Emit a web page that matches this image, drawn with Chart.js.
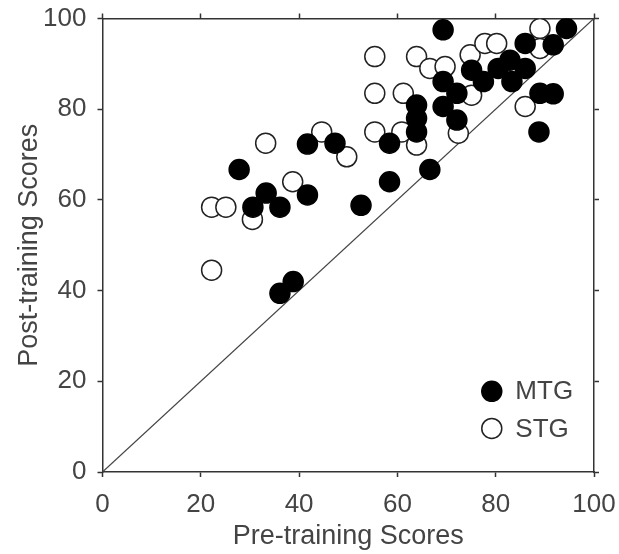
<!DOCTYPE html>
<html>
<head>
<meta charset="utf-8">
<script src="https://cdn.jsdelivr.net/npm/chart.js@4.4.1/dist/chart.umd.min.js"></script>
<style>
  html, body { margin: 0; padding: 0; background: #fff; }
  #wrap { width: 619px; height: 554px; }
</style>
</head>
<body>
<div id="wrap"><canvas id="chart" width="619" height="554"></canvas></div>
<script>
// MTG group (filled markers)
const mtgPre  = [69.3, 94.4, 86.0, 91.7, 75.1, 77.5, 80.5, 82.9, 86.0, 83.3, 69.3, 72.1, 69.3, 72.1, 63.9, 63.9, 63.9,
                 58.4, 58.4, 66.6, 52.6, 89.0, 91.7, 88.8, 47.3, 41.7, 41.7, 27.8, 30.6, 33.3, 36.1, 36.1, 38.8];
const mtgPost = [97.5, 97.8, 94.5, 94.2, 88.6, 86.1, 89.0, 90.8, 89.0, 86.1, 86.1, 83.5, 80.6, 77.6, 80.9, 78.0, 75.0,
                 72.5, 64.0, 66.7, 58.8, 83.5, 83.4, 75.0, 72.5, 72.3, 61.1, 66.7, 58.4, 61.5, 58.4, 39.4, 42.0];

// STG group (open markers)
const stgPre  = [55.4, 55.4, 55.4, 61.2, 60.9, 63.9, 72.4, 75.1, 74.8, 77.8, 80.2, 89.0, 89.0, 86.0, 63.9, 66.6, 69.7,
                 49.7, 44.6, 33.2, 38.7, 22.2, 25.1, 30.5, 22.2];
const stgPost = [91.6, 83.5, 75.0, 83.5, 75.0, 72.1, 74.7, 83.1, 92.0, 94.5, 94.5, 97.8, 93.4, 80.6, 91.6, 89.0, 89.4,
                 69.5, 75.0, 72.5, 64.0, 58.4, 58.4, 55.7, 44.5];

// identity line (post = pre)
const identityLine = [0, 100];
const axisMin = 0;
const axisMax = 100;
const tickStep = 20;

const toPoints = (xs, ys) => xs.map((x, i) => ({ x, y: ys[i] }));

const FONT = "'Liberation Sans', Arial, sans-serif";
const INK = '#333';

// fixed axis box size, no extra room for overhanging labels
const fixBox = (key, size) => s => {
  s[key] = size;
  s.paddingLeft = s.paddingRight = s.paddingTop = s.paddingBottom = 0;
};

const boxAxis = (position, showLabels, pad, fit) => ({
  type: 'linear',
  position,
  min: axisMin,
  max: axisMax,
  ticks: {
    display: showLabels,
    stepSize: tickStep,
    color: '#444',
    padding: pad,
    font: { family: FONT, size: 26 },
  },
  grid: {
    drawOnChartArea: false,
    drawTicks: true,
    tickLength: 5,
    tickColor: INK,
    tickWidth: 1.5,
  },
  border: { display: true, color: INK, width: 1.5 },
  afterFit: fit,
});

// legend drawn inside the plot area, bottom right
const insideLegend = {
  id: 'insideLegend',
  afterDatasetsDraw(chart) {
    const { ctx, chartArea: a } = chart;
    const w = a.right - a.left;
    const h = a.bottom - a.top;
    const items = chart.data.datasets.filter(d => d.inLegend);
    items.forEach((d, i) => {
      const cx = a.left + w * 0.792;
      const cy = a.top + h * (0.822 + i * 0.082);
      ctx.save();
      ctx.beginPath();
      ctx.arc(cx, cy, d.pointRadius, 0, Math.PI * 2);
      ctx.fillStyle = d.backgroundColor;
      ctx.fill();
      ctx.lineWidth = d.borderWidth;
      ctx.strokeStyle = d.borderColor;
      ctx.stroke();
      ctx.fillStyle = '#444';
      ctx.font = `26px ${FONT}`;
      ctx.textBaseline = 'middle';
      ctx.fillText(d.label, a.left + w * 0.84, cy + 1);
      ctx.restore();
    });
  }
};

new Chart(document.getElementById('chart'), {
  type: 'scatter',
  data: {
    datasets: [
      {
        label: 'MTG',
        inLegend: true,
        data: toPoints(mtgPre, mtgPost),
        pointRadius: 10,
        backgroundColor: '#000',
        borderColor: '#000',
        borderWidth: 1.5,
        order: 1,
      },
      {
        label: 'STG',
        inLegend: true,
        data: toPoints(stgPre, stgPost),
        pointRadius: 10,
        backgroundColor: '#fff',
        borderColor: '#222',
        borderWidth: 1.5,
        order: 2,
      },
      {
        label: 'identity',
        data: toPoints(identityLine, identityLine),
        showLine: true,
        pointRadius: 0,
        borderColor: '#444',
        borderWidth: 1.2,
        order: 3,
      },
    ],
  },
  options: {
    responsive: false,
    animation: false,
    layout: { padding: 0 },
    plugins: {
      legend: { display: false },
      tooltip: { enabled: false },
    },
    scales: {
      x: {
        ...boxAxis('bottom', true, 12, fixBox('height', 82)),
        title: {
          display: true,
          text: 'Pre-training Scores',
          color: '#444',
          font: { family: FONT, size: 27 },
          padding: { top: 0, bottom: 1 },
        },
      },
      xTop: boxAxis('top', false, 0, fixBox('height', 18.5)),
      y: {
        ...boxAxis('left', true, 11, fixBox('width', 102.5)),
        title: {
          display: true,
          text: 'Post-training Scores',
          color: '#444',
          font: { family: FONT, size: 27 },
          padding: { top: 13, bottom: 0 },
        },
      },
      yRight: boxAxis('right', false, 0, fixBox('width', 25)),
    },
  },
  plugins: [insideLegend],
});
</script>
</body>
</html>
